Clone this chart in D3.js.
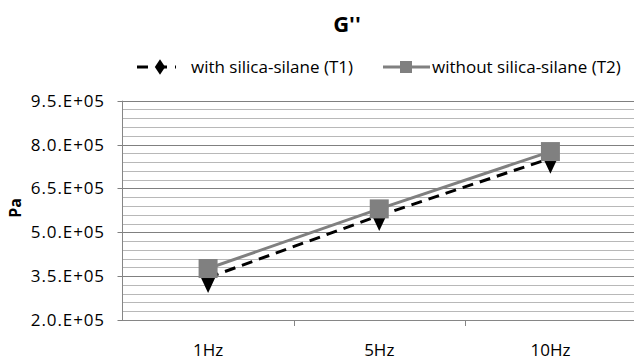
<!DOCTYPE html>
<html>
<head>
<meta charset="utf-8">
<script src="https://cdn.jsdelivr.net/npm/d3@7"></script>
<style>
body { margin: 0; background: #fff; }
text { font-family: "Open Sans", "DejaVu Sans", sans-serif; fill: #000; }
</style>
</head>
<body>
<div id="chart-area"></div>
<script>
var categories = ["1Hz", "5Hz", "10Hz"];
var t1Values = [345000, 557000, 753000];
var t2Values = [376000, 580000, 776000];
var yTicks = [200000, 350000, 500000, 650000, 800000, 950000];
var seriesNames = ["with silica-silane (T1)", "without silica-silane (T2)"];

var width = 634, height = 360;
var margin = {top: 100.7, right: 0, bottom: 40, left: 122.5};

var svg = d3.select("#chart-area").append("svg")
    .attr("width", width)
    .attr("height", height);

var xscale = d3.scaleBand()
    .domain(categories)
    .range([margin.left, 636]);

var yscale = d3.scaleLinear()
    .domain([200000, 950000])
    .range([320, margin.top]);

// minor gridlines every 30000
var minor = d3.range(200000, 950001, 30000);
svg.append("g").selectAll("line")
    .data(minor)
    .enter().append("line")
    .attr("x1", margin.left).attr("x2", width)
    .attr("y1", function(d){ return Math.round(yscale(d)) + 0.5; })
    .attr("y2", function(d){ return Math.round(yscale(d)) + 0.5; })
    .attr("stroke", "#b8b8b8")
    .attr("stroke-width", 1);

// major gridlines
svg.append("g").selectAll("line")
    .data(yTicks)
    .enter().append("line")
    .attr("x1", margin.left - 5).attr("x2", width)
    .attr("y1", function(d){ return Math.round(yscale(d)) + 0.5; })
    .attr("y2", function(d){ return Math.round(yscale(d)) + 0.5; })
    .attr("stroke", "#808080")
    .attr("stroke-width", 1);

// y axis line
svg.append("line")
    .attr("x1", margin.left).attr("x2", margin.left)
    .attr("y1", yscale(950000)).attr("y2", 320)
    .attr("stroke", "#868686");

// x axis line and ticks
svg.append("line")
    .attr("x1", margin.left).attr("x2", width)
    .attr("y1", 320.5).attr("y2", 320.5)
    .attr("stroke", "#868686");

svg.append("g").selectAll("line")
    .data(categories.slice(1))
    .enter().append("line")
    .attr("x1", function(d){ return Math.round(xscale(d)) + 0.5; })
    .attr("x2", function(d){ return Math.round(xscale(d)) + 0.5; })
    .attr("y1", 320).attr("y2", 326)
    .attr("stroke", "#868686");

// y tick labels
svg.append("g").selectAll("text")
    .data(yTicks)
    .enter().append("text")
    .attr("x", 105)
    .attr("y", function(d){ return yscale(d) + 6; })
    .attr("text-anchor", "end")
    .style("font-size", "17px")
    .style("letter-spacing", "0.9px")
    .text(function(d){ return (d / 100000).toFixed(1) + ".E+05"; });

// x labels
svg.append("g").selectAll("text")
    .data(categories)
    .enter().append("text")
    .attr("x", function(d){ return xscale(d) + xscale.bandwidth() / 2; })
    .attr("y", 356)
    .attr("text-anchor", "middle")
    .style("font-size", "17px")
    .text(function(d){ return d; });

// y title
svg.append("text")
    .attr("transform", "translate(21,208) rotate(-90)")
    .attr("text-anchor", "middle")
    .style("font-size", "16px")
    .style("font-weight", "bold")
    .text("Pa");

// chart title
svg.append("text")
    .attr("x", 347).attr("y", 32)
    .attr("text-anchor", "middle")
    .style("font-size", "22px")
    .style("font-weight", "bold")
    .text("G''");

var cx = function(i){ return xscale(categories[i]) + xscale.bandwidth() / 2; };

var line = d3.line()
    .x(function(d, i){ return cx(i); })
    .y(function(d){ return yscale(d); });

var diamond = d3.symbol().type(d3.symbolDiamond).size(150);

// T1 diamonds drawn first so squares cover them
svg.append("g").selectAll("path")
    .data(t1Values)
    .enter().append("path")
    .attr("d", diamond)
    .attr("transform", function(d, i){ return "translate(" + cx(i) + "," + yscale(d) + ") scale(1.1,1.35)"; })
    .attr("fill", "#000");

svg.append("path")
    .datum(t1Values)
    .attr("d", line)
    .attr("fill", "none")
    .attr("stroke", "#000")
    .attr("stroke-width", 3)
    .attr("stroke-dasharray", "11,7");

svg.append("path")
    .datum(t2Values)
    .attr("d", line)
    .attr("fill", "none")
    .attr("stroke", "#808080")
    .attr("stroke-width", 3);

svg.append("g").selectAll("rect")
    .data(t2Values)
    .enter().append("rect")
    .attr("x", function(d, i){ return cx(i) - 9.5; })
    .attr("y", function(d){ return yscale(d) - 9.5; })
    .attr("width", 19).attr("height", 19)
    .attr("fill", "#808080");

// legend
var leg = svg.append("g");
leg.append("line")
    .attr("x1", 137).attr("x2", 176).attr("y1", 67).attr("y2", 67)
    .attr("stroke", "#000").attr("stroke-width", 3)
    .attr("stroke-dasharray", "11,8");
leg.append("path")
    .attr("d", d3.symbol().type(d3.symbolDiamond).size(70))
    .attr("transform", "translate(160,67) scale(1.15,1)")
    .attr("fill", "#000");
leg.append("text")
    .attr("x", 191).attr("y", 73)
    .style("font-size", "17px")
    .text(seriesNames[0]);

leg.append("line")
    .attr("x1", 383).attr("x2", 430).attr("y1", 67).attr("y2", 67)
    .attr("stroke", "#808080").attr("stroke-width", 3);
leg.append("rect")
    .attr("x", 400).attr("y", 61).attr("width", 12).attr("height", 12)
    .attr("fill", "#808080");
leg.append("text")
    .attr("x", 432).attr("y", 73)
    .style("font-size", "17px")
    .text(seriesNames[1]);
</script>
</body>
</html>
